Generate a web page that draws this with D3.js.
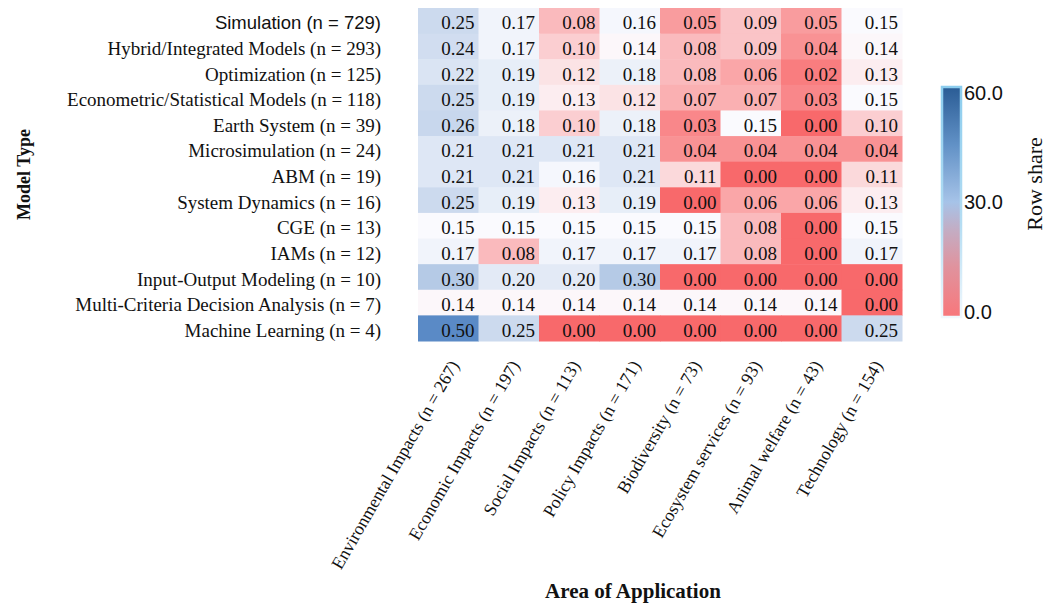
<!DOCTYPE html>
<html>
<head>
<meta charset="utf-8">
<script src="https://cdn.jsdelivr.net/npm/d3@7"></script>
<style>
    body { margin: 0; background: #fff; }
    svg { display: block; }
</style>
</head>
<body>
<svg width="1059" height="605"></svg>
<script>
var modelTypes = [
    "Simulation (n = 729)",
    "Hybrid/Integrated Models (n = 293)",
    "Optimization (n = 125)",
    "Econometric/Statistical Models (n = 118)",
    "Earth System (n = 39)",
    "Microsimulation (n = 24)",
    "ABM (n = 19)",
    "System Dynamics (n = 16)",
    "CGE (n = 13)",
    "IAMs (n = 12)",
    "Input-Output Modeling (n = 10)",
    "Multi-Criteria Decision Analysis (n = 7)",
    "Machine Learning (n = 4)"
];

var areas = [
    "Environmental Impacts (n = 267)",
    "Economic Impacts (n = 197)",
    "Social Impacts (n = 113)",
    "Policy Impacts (n = 171)",
    "Biodiversity (n = 73)",
    "Ecosystem services (n = 93)",
    "Animal welfare (n = 43)",
    "Technology (n = 154)"
];

// row shares, one list per model type, in the order of areas
var shares = [
    [0.25, 0.17, 0.08, 0.16, 0.05, 0.09, 0.05, 0.15],
    [0.24, 0.17, 0.10, 0.14, 0.08, 0.09, 0.04, 0.14],
    [0.22, 0.19, 0.12, 0.18, 0.08, 0.06, 0.02, 0.13],
    [0.25, 0.19, 0.13, 0.12, 0.07, 0.07, 0.03, 0.15],
    [0.26, 0.18, 0.10, 0.18, 0.03, 0.15, 0.00, 0.10],
    [0.21, 0.21, 0.21, 0.21, 0.04, 0.04, 0.04, 0.04],
    [0.21, 0.21, 0.16, 0.21, 0.11, 0.00, 0.00, 0.11],
    [0.25, 0.19, 0.13, 0.19, 0.00, 0.06, 0.06, 0.13],
    [0.15, 0.15, 0.15, 0.15, 0.15, 0.08, 0.00, 0.15],
    [0.17, 0.08, 0.17, 0.17, 0.17, 0.08, 0.00, 0.17],
    [0.30, 0.20, 0.20, 0.30, 0.00, 0.00, 0.00, 0.00],
    [0.14, 0.14, 0.14, 0.14, 0.14, 0.14, 0.14, 0.00],
    [0.50, 0.25, 0.00, 0.00, 0.00, 0.00, 0.00, 0.25]
];

var colorbarTicks = [0, 30, 60];

var serif = "'Liberation Serif', 'Times New Roman', serif";
var sans = "'Liberation Sans', Arial, sans-serif";

var svg = d3.select("svg");

var gridLeft = 418, gridRight = 902, gridTop = 8, gridBottom = 341;

var x = d3.scaleBand().domain(areas).range([gridLeft, gridRight]);
var y = d3.scaleBand().domain(modelTypes).range([gridTop, gridBottom]);

var color = d3.scaleLinear()
    .domain([0, 0.145, 0.5])
    .range(["#f8696b", "#fcfcff", "#5a8ac6"]);

var cells = [];
shares.forEach(function(row, i) {
    row.forEach(function(v, j) {
        cells.push({row: modelTypes[i], col: areas[j], value: v});
    });
});

var cell = svg.append("g")
    .attr("class", "cells")
    .selectAll("g")
    .data(cells)
    .enter().append("g");

cell.append("rect")
    .attr("x", function(d) { return x(d.col); })
    .attr("y", function(d) { return y(d.row); })
    .attr("width", x.bandwidth() + 0.5)
    .attr("height", y.bandwidth() + 0.5)
    .attr("fill", function(d) { return color(d.value); });

cell.append("text")
    .attr("x", function(d) { return x(d.col) + x.bandwidth() - 4; })
    .attr("y", function(d) { return y(d.row) + y.bandwidth() / 2; })
    .attr("dy", "0.45em")
    .attr("text-anchor", "end")
    .style("font-family", serif)
    .style("font-size", "19px")
    .attr("fill", "#111")
    .text(function(d) { return d.value.toFixed(2); });

// row labels
var yAxis = svg.append("g")
    .attr("transform", "translate(" + gridLeft + ",0)")
    .call(d3.axisLeft(y).tickSize(0).tickPadding(37));
yAxis.select(".domain").remove();
yAxis.selectAll("text")
    .attr("dy", "0.45em")
    .attr("fill", "#111")
    .style("font-family", function(d, i) { return i === 0 ? sans : serif; })
    .style("font-size", function(d, i) { return i === 0 ? "18.5px" : "19px"; });

// column labels
var xAxis = svg.append("g")
    .attr("transform", "translate(0," + gridBottom + ")")
    .call(d3.axisBottom(x).tickSize(0));
xAxis.select(".domain").remove();
xAxis.selectAll("text")
    .attr("x", 0)
    .attr("y", 0)
    .attr("dy", "0.35em")
    .attr("text-anchor", "end")
    .attr("transform", "translate(6,21) rotate(-60)")
    .attr("fill", "#111")
    .style("font-family", serif)
    .style("font-size", "17.8px");

svg.append("text")
    .attr("transform", "translate(30," + (gridTop + gridBottom) / 2 + ") rotate(-90)")
    .attr("text-anchor", "middle")
    .style("font-family", serif)
    .style("font-size", "18px")
    .style("font-weight", "bold")
    .attr("fill", "#111")
    .text("Model Type");

svg.append("text")
    .attr("x", 633)
    .attr("y", 598)
    .attr("text-anchor", "middle")
    .style("font-family", serif)
    .style("font-size", "21px")
    .style("font-weight", "bold")
    .attr("fill", "#111")
    .text("Area of Application");

// colorbar
var defs = svg.append("defs");
var grad = defs.append("linearGradient")
    .attr("id", "cbar")
    .attr("x1", 0).attr("y1", 1).attr("x2", 0).attr("y2", 0);
[[0, "#f8777b"], [0.22, "#e0939e"], [0.38, "#c3adc4"], [0.5, "#a6c3e8"], [0.75, "#6191c6"], [1, "#2a5c95"]]
    .forEach(function(s) {
        grad.append("stop").attr("offset", s[0]).attr("stop-color", s[1]);
    });
var edge = defs.append("linearGradient")
    .attr("id", "cedge")
    .attr("x1", 0).attr("y1", 0).attr("x2", 0).attr("y2", 1);
edge.append("stop").attr("offset", 0).attr("stop-color", "#8ccdee");
edge.append("stop").attr("offset", 0.6).attr("stop-color", "#b5ddf3");
edge.append("stop").attr("offset", 1).attr("stop-color", "#f1f8fd");

svg.append("rect")
    .attr("x", 942)
    .attr("y", 87)
    .attr("width", 19)
    .attr("height", 230)
    .attr("fill", "url(#cbar)")
    .attr("stroke", "url(#cedge)")
    .attr("stroke-width", 2.5);

var cb = d3.scaleLinear().domain([0, 60]).range([312, 93]);
var cbAxis = svg.append("g")
    .attr("transform", "translate(961,0)")
    .call(d3.axisRight(cb).tickValues(colorbarTicks).tickFormat(d3.format(".1f")).tickSize(0).tickPadding(3));
cbAxis.select(".domain").remove();
cbAxis.selectAll("text")
    .attr("fill", "#111")
    .style("font-family", sans)
    .style("font-size", "20px");

svg.append("text")
    .attr("transform", "translate(1042,184) rotate(-90)")
    .attr("text-anchor", "middle")
    .style("font-family", serif)
    .style("font-size", "22px")
    .attr("fill", "#111")
    .text("Row share");
</script>
</body>
</html>
